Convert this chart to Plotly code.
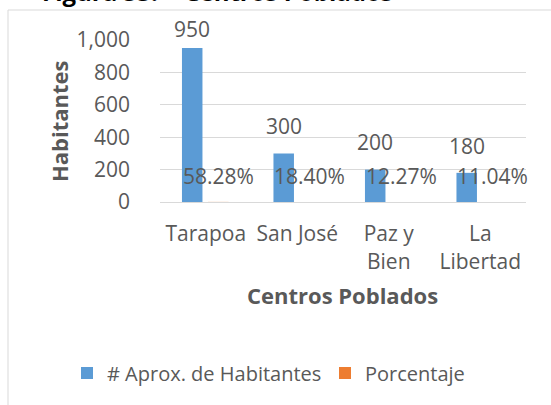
import plotly.graph_objects as go

categories = ["Tarapoa", "San José", "Paz y<br>Bien", "La<br>Libertad"]
habitantes = [950, 300, 200, 180]
porcentaje = [0.5828, 0.1840, 0.1227, 0.1104]
pct_labels = ["58.28%", "18.40%", "12.27%", "11.04%"]
y_ticks = [0, 200, 400, 600, 800, 1000]

BLUE = "#5B9BD5"
ORANGE = "rgba(237,125,49,0.999)"
TXT = "#595959"
GRID = "#D9D9D9"
FONT = "Open Sans"

W, H = 551, 405
L, R, T, B = 160, 25, 40, 203
PW, PH = W - L - R, H - T - B

def px_x(x):
    return (x - L) / PW

def px_y(y):
    return (H - B - y) / PH

fig = go.Figure()
fig.add_trace(go.Bar(
    x=categories, y=habitantes, name="# Aprox. de Habitantes",
    marker=dict(color=BLUE, line=dict(width=0)),
    width=0.224, offset=-0.26,
))
fig.add_trace(go.Bar(
    x=categories, y=porcentaje, name="Porcentaje",
    marker=dict(color=ORANGE, line=dict(width=0)),
    width=0.224, offset=0.025,
))

annotations = []
value_shift = [19, 27, 28, 27]
for c, v, s in zip(categories, habitantes, value_shift):
    annotations.append(dict(
        x=c, y=v, xref="x", yref="y", text=str(v), showarrow=False,
        xshift=-13.5, yshift=s, yanchor="middle",
        font=dict(family=FONT, size=21, color=TXT),
    ))
for c, p, t in zip(categories, porcentaje, pct_labels):
    annotations.append(dict(
        x=c, y=p, xref="x", yref="y", text=t, showarrow=False,
        xshift=12.5, yshift=26, yanchor="middle",
        font=dict(family=FONT, size=21, color=TXT),
    ))

annotations.append(dict(
    x=px_x(59), y=0.5, xref="paper", yref="paper", text="<b>Habitantes</b>",
    showarrow=False, textangle=-90, xanchor="center", yanchor="middle",
    font=dict(family=FONT, size=22, color=TXT),
))
annotations.append(dict(
    x=px_x(342), y=px_y(295), xref="paper", yref="paper", text="<b>Centros Poblados</b>",
    showarrow=False, xanchor="center", yanchor="middle",
    font=dict(family=FONT, size=22, color=TXT),
))
annotations.append(dict(
    x=px_x(40), y=px_y(10), xref="paper", yref="paper",
    text="<b>Figura 53.  - Centros Poblados</b>",
    showarrow=False, xanchor="left", yanchor="bottom",
    font=dict(family=FONT, size=24, color="#000000"),
))

fig.update_layout(
    width=W, height=H,
    margin=dict(l=L, r=R, t=T, b=B, pad=0, autoexpand=False),
    paper_bgcolor="white", plot_bgcolor="white",
    font=dict(family=FONT, size=21, color=TXT),
    barmode="group",
    showlegend=True,
    legend=dict(
        orientation="h",
        x=px_x(67), y=px_y(373), xanchor="left", yanchor="middle",
        font=dict(family=FONT, size=20, color=TXT), traceorder="normal",
        itemwidth=30, entrywidth=213, entrywidthmode="pixels",
    ),
    annotations=annotations,
    shapes=[dict(
        type="rect", xref="paper", yref="paper",
        x0=px_x(8), x1=px_x(570), y0=px_y(420), y1=px_y(10),
        line=dict(color=GRID, width=1), fillcolor="rgba(0,0,0,0)", layer="below",
    )],
)
fig.update_xaxes(
    range=[-0.5, 3.5],
    showgrid=False, showline=True, linecolor=GRID, linewidth=1,
    ticks="", tickfont=dict(family=FONT, size=21, color=TXT),
    ticklabelstandoff=13,
)
fig.update_yaxes(
    range=[0, 1000], tickvals=y_ticks, tickformat=",",
    showgrid=True, gridcolor=GRID, gridwidth=1, zeroline=False,
    showline=False, ticks="", tickfont=dict(family=FONT, size=21, color=TXT),
    ticklabelstandoff=29,
)

fig.write_html(
    "out.html",
    config={"displayModeBar": False},
    post_script="document.body.style.margin='0';",
)
